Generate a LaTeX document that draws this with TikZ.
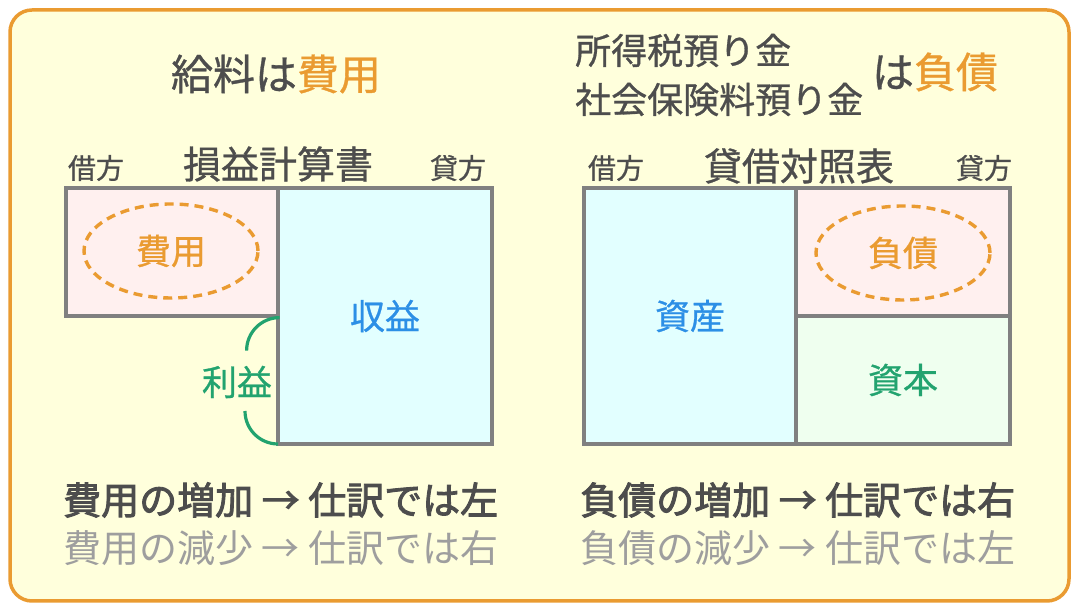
\documentclass[tikz,border=0pt]{standalone}
\usepackage{fontspec}
\setmainfont{Noto Sans CJK JP}
\newfontfamily\jpmed[FakeBold=0.8]{Noto Sans CJK JP}
\newfontfamily\jpbold[FakeBold=2.3]{Noto Sans CJK JP}
\usetikzlibrary{shapes.geometric}

\definecolor{frameor}{HTML}{EA9B31}
\definecolor{bgyel}{HTML}{FFFFDC}
\definecolor{txtdark}{HTML}{4D4D4D}
\definecolor{txtlight}{HTML}{9E9E9E}
\definecolor{boxgray}{HTML}{808080}
\definecolor{acblue}{HTML}{2C8FE6}
\definecolor{acgreen}{HTML}{22A36F}
\definecolor{pinkfill}{HTML}{FFF0EF}
\definecolor{cyanfill}{HTML}{E2FFFF}
\definecolor{greenfill}{HTML}{EFFFEF}
\newcommand{\fsz}[1]{\fontsize{#1}{#1}\selectfont}

\begin{document}
\begin{tikzpicture}[x=1pt, y=1pt,
	acct/.style={draw=boxgray, line width=3.2pt, inner sep=0pt, font=\jpmed\fsz{35}},
	oval/.style={ellipse, draw=frameor, line width=3.4pt, dash pattern=on 9pt off 6pt,
		text=frameor, minimum width=174pt, minimum height=94pt, inner sep=0pt, font=\jpmed\fsz{35}},
	side/.style={text=txtdark, font=\jpmed\fsz{28}, inner sep=0pt},
	sheet/.style={text=txtdark, font=\jpmed\fsz{38}, inner sep=0pt},
	rule/.style={anchor=west, inner sep=0pt, font=\fsz{38}}]
	\useasboundingbox (0,0) rectangle (1080,612);
	\path[fill=bgyel, draw=frameor, line width=3.5pt, rounded corners=22pt] (10,11) rectangle (1069,602);
	
	% LEFT: P/L
	\path (276, 538) node[inner sep=0pt, font=\jpmed\fsz{42}, text=txtdark] (kyuryo) {給料は\textcolor{frameor}{費用}};
	\path (278, 448) node[sheet] (pl) {損益計算書};
	\path (96, 444) node[side] (pldebit) {借方};
	\path (458, 444) node[side] (plcredit) {貸方};
	
	\path (172, 360) node[acct, fill=pinkfill, minimum width=212pt, minimum height=128pt] (hiyo) {};
	\path (385, 296) node[acct, fill=cyanfill, text=acblue, minimum width=214pt, minimum height=256pt] (shueki) {収益};
	\path (171, 361) node[oval] (hiyooval) {費用};
	
	% profit bracket
	\path (237, 230) node[inner sep=0pt, font=\jpmed\fsz{35}, text=acgreen] (rieki) {利益};
	\draw[acgreen, line width=3.2pt] (hiyo.south east) arc[start angle=90, end angle=180, radius=33pt];
	\coordinate (riekilow) at (245, 201);
	\draw[acgreen, line width=3.2pt] (riekilow) arc[start angle=180, end angle=270, radius=33pt];
	
	\path (63, 112) node[rule, text=txtdark] (plup) {\jpbold 費用の増加 → 仕訳では左};
	\path (63, 64) node[rule, text=txtlight] (pldown) {費用の減少 → 仕訳では右};
	
	% RIGHT: B/S
	\path (575, 537) node[anchor=west, inner sep=0pt, align=left, text=txtdark,
		font=\jpmed\fontsize{36}{49}\selectfont] (azukari) {所得税預り金\\社会保険料預り金};
	\path (935, 540) node[inner sep=0pt, font=\jpmed\fsz{42}, text=txtdark] (wafusai) {は\textcolor{frameor}{負債}};
	\path (799, 446) node[sheet] (bs) {貸借対照表};
	\path (616, 444) node[side] (bsdebit) {借方};
	\path (984, 444) node[side] (bscredit) {貸方};
	
	\path (690, 296) node[acct, fill=cyanfill, text=acblue, minimum width=212pt, minimum height=256pt] (shisan) {資産};
	\path (903, 360) node[acct, fill=pinkfill, minimum width=214pt, minimum height=128pt] (fusai) {};
	\path (903, 232) node[acct, fill=greenfill, text=acgreen, minimum width=214pt, minimum height=128pt] (shihon) {資本};
	\path (903, 359) node[oval] (fusaioval) {負債};
	
	\path (580, 112) node[rule, text=txtdark] (bsup) {\jpbold 負債の増加 → 仕訳では右};
	\path (580, 64) node[rule, text=txtlight] (bsdown) {負債の減少 → 仕訳では左};
\end{tikzpicture}
\end{document}
